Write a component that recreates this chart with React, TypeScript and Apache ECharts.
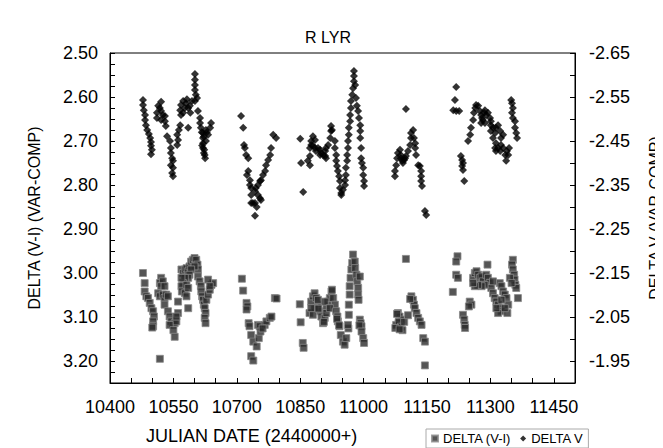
import React, { useEffect, useRef } from "react";
import * as echarts from "echarts";

const TITLE = "R LYR";
const X_TITLE = "JULIAN DATE (2440000+)";
const LEFT_TITLE = "DELTA (V-I) (VAR-COMP)";
const RIGHT_TITLE = "DELTA V (VAR-COMP)";
const SERIES_VI = "DELTA (V-I)";
const SERIES_V = "DELTA V";

// DELTA V (right axis) [JD-2440000, mag]
const v1 = [[10478,-2.543],[10478,-2.532],[10480,-2.520],[10483,-2.509],[10483,-2.498],[10485,-2.486],[10488,-2.475],[10492,-2.466],[10495,-2.457],[10497,-2.448],[10497,-2.439],[10499,-2.430],[10497,-2.420],
[10521,-2.539],[10514,-2.530],[10518,-2.525],[10511,-2.514],[10521,-2.518],[10511,-2.502],[10525,-2.509],[10530,-2.507],[10521,-2.498],[10530,-2.495],[10532,-2.484],[10535,-2.461],[10542,-2.450],[10544,-2.434],[10544,-2.423],[10547,-2.411],[10549,-2.405],[10544,-2.395],[10549,-2.389],[10547,-2.377],[10549,-2.370],
[10601,-2.602],[10601,-2.589],[10601,-2.577],[10601,-2.566],[10603,-2.555],[10606,-2.548],[10601,-2.541],[10573,-2.541],[10568,-2.532],[10566,-2.520],[10568,-2.509],[10573,-2.514],[10577,-2.525],[10566,-2.486],[10563,-2.475],[10559,-2.464],[10561,-2.452],[10559,-2.441],[10585,-2.480],[10608,-2.518],[10613,-2.502],[10613,-2.491],[10615,-2.480],[10620,-2.468],[10620,-2.457],[10620,-2.445],[10620,-2.434],[10622,-2.423],[10625,-2.411],[10627,-2.450],[10632,-2.464],[10639,-2.491],[10637,-2.480],[10627,-2.475],[10580,-2.536],[10585,-2.525],[10589,-2.530],[10582,-2.545],[10590,-2.514],[10594,-2.541],[10617,-2.470],[10618,-2.440],[10623,-2.430],[10624,-2.418],[10622,-2.460],[10629,-2.470]];
const v2 = [[10710,-2.507],[10715,-2.480],[10717,-2.441],[10719,-2.434],[10722,-2.418],[10727,-2.411],[10727,-2.382],[10724,-2.373],[10731,-2.361],[10731,-2.350],[10734,-2.343],[10734,-2.327],[10738,-2.309],[10743,-2.309],[10743,-2.336],[10745,-2.343],[10750,-2.350],[10755,-2.359],[10757,-2.361],[10762,-2.373],[10767,-2.382],[10769,-2.395],[10774,-2.407],[10779,-2.418],[10781,-2.434],[10786,-2.464],[10793,-2.457],[10750,-2.327],[10755,-2.320],[10757,-2.316],[10734,-2.309],[10743,-2.280],[10747,-2.300]];
const v3 = [[10850,-2.455],[10852,-2.400],[10857,-2.334],
[10873,-2.434],[10876,-2.450],[10880,-2.461],[10885,-2.452],[10876,-2.441],[10880,-2.439],[10885,-2.434],[10887,-2.427],[10892,-2.434],[10897,-2.430],[10899,-2.423],[10904,-2.418],[10909,-2.427],[10911,-2.434],[10916,-2.441],[10921,-2.457],[10923,-2.473],[10923,-2.484],[10925,-2.475],[10873,-2.416],[10868,-2.405],[10873,-2.395],[10897,-2.418],[10909,-2.416],[10911,-2.411],
[10932,-2.450],[10932,-2.434],[10935,-2.418],[10935,-2.405],[10937,-2.393],[10939,-2.382],[10942,-2.370],[10944,-2.359],[10944,-2.343],[10947,-2.332],[10947,-2.327],[10951,-2.339],[10956,-2.350],[10956,-2.361],[10958,-2.373],
[10958,-2.389],[10961,-2.405],[10961,-2.418],[10963,-2.434],[10963,-2.450],[10965,-2.464],[10965,-2.480],[10968,-2.495],[10968,-2.509],[10970,-2.525],[10970,-2.541],[10973,-2.555],[10975,-2.570],[10977,-2.586],[10977,-2.598],[10977,-2.609],
[10980,-2.577],[10982,-2.548],[10984,-2.530],[10987,-2.518],[10989,-2.502],[10992,-2.486],[10992,-2.473],[10992,-2.457],[10994,-2.434],[10994,-2.411],[10996,-2.400],[10999,-2.389],[10999,-2.373],[11001,-2.359],[11001,-2.348]];
const v4 = [[11100,-2.523],[11074,-2.370],[11074,-2.382],[11077,-2.395],[11079,-2.411],[11081,-2.423],[11086,-2.430],[11088,-2.418],[11088,-2.411],[11091,-2.405],[11093,-2.400],[11096,-2.407],[11098,-2.411],[11100,-2.416],[11105,-2.427],[11110,-2.441],[11112,-2.457],[11112,-2.468],[11117,-2.475],[11119,-2.457],[11122,-2.445],[11122,-2.434],[11124,-2.418],[11129,-2.395],[11133,-2.393],[11136,-2.382],[11136,-2.370],[11136,-2.359],[11138,-2.348],[11145,-2.291],[11148,-2.282]];
const v5 = [[11219,-2.573],[11216,-2.543],[11212,-2.520],[11219,-2.518],[11226,-2.518],[11230,-2.416],[11233,-2.407],[11235,-2.400],[11233,-2.393],[11235,-2.384],[11238,-2.359],
[11247,-2.450],[11252,-2.464],[11254,-2.480],[11259,-2.498],[11261,-2.514],[11264,-2.525],[11266,-2.532],[11271,-2.530],[11275,-2.518],[11278,-2.509],[11282,-2.498],[11287,-2.491],[11290,-2.509],[11294,-2.514],[11299,-2.502],[11301,-2.486],[11301,-2.473],[11306,-2.457],[11311,-2.434],[11313,-2.427],[11287,-2.520],[11285,-2.514],[11280,-2.502],[11278,-2.491],[11301,-2.495],[11306,-2.480],[11311,-2.468],[11313,-2.480],[11318,-2.486],[11323,-2.473],[11325,-2.457],[11325,-2.441],[11330,-2.434],[11335,-2.418],[11337,-2.405],[11339,-2.427],[11313,-2.445],[11318,-2.434],[11323,-2.427],[11342,-2.418],[11344,-2.434],[11330,-2.464],
[11349,-2.543],[11351,-2.536],[11353,-2.525],[11351,-2.514],[11353,-2.502],[11358,-2.495],[11358,-2.480],[11361,-2.468],[11363,-2.457]];

// DELTA (V-I) (left axis)
const vi1 = [[10478,3.000],[10482,3.023],[10482,3.042],[10486,3.053],[10490,3.057],[10494,3.068],[10498,3.080],[10502,3.087],[10504,3.099],[10502,3.110],[10502,3.121],[10500,3.124],[10518,3.195],
[10521,3.011],[10518,3.023],[10525,3.019],[10521,3.030],[10529,3.030],[10514,3.046],[10518,3.053],[10525,3.049],[10529,3.057],[10533,3.049],[10537,3.053],[10529,3.072],[10537,3.087],[10541,3.099],[10545,3.110],[10549,3.118],[10553,3.114],[10557,3.110],[10561,3.091],[10561,3.065],[10557,3.099],[10541,3.118],[10550,3.130],[10553,3.145],
[10569,2.992],[10573,3.000],[10577,2.992],[10581,2.989],[10585,2.996],[10588,2.985],[10592,2.974],[10596,2.970],[10600,2.966],[10604,2.970],[10607,2.981],[10608,2.992],[10600,2.985],[10592,2.992],[10588,3.004],[10585,3.011],[10577,3.011],[10573,3.023],[10569,3.030],[10570,3.042],[10577,3.046],[10581,3.053],[10569,3.011],[10581,3.027],[10585,3.034],[10585,3.080],
[10608,3.008],[10612,3.019],[10615,3.030],[10616,3.042],[10618,3.053],[10620,3.061],[10622,3.072],[10624,3.080],[10626,3.091],[10624,3.102],[10626,3.114],[10628,3.061],[10632,3.049],[10636,3.038],[10640,3.027],[10644,3.023],[10632,3.015],[10636,3.030]];
const vi2 = [[10712,3.013],[10715,3.040],[10723,3.068],[10725,3.076],[10723,3.083],[10728,3.114],[10730,3.121],[10750,3.118],[10754,3.121],[10766,3.118],[10770,3.110],[10778,3.102],[10782,3.099],[10790,3.057],[10794,3.058],[10734,3.141],[10739,3.156],[10747,3.167],[10752,3.148],[10756,3.133],[10761,3.126],[10734,3.189],[10739,3.199]];
const vi3 = [[10849,3.071],[10851,3.112],[10856,3.159],[10858,3.170],
[10872,3.091],[10876,3.065],[10880,3.053],[10884,3.046],[10888,3.057],[10892,3.072],[10896,3.087],[10900,3.099],[10904,3.114],[10908,3.102],[10912,3.080],[10916,3.065],[10920,3.057],[10924,3.042],[10925,3.038],[10928,3.057],[10932,3.072],[10884,3.080],[10880,3.095],[10892,3.061],[10876,3.080],[10908,3.065],[10912,3.091],[10920,3.080],[10893,3.081],[10906,3.111],
[10935,3.087],[10938,3.099],[10939,3.110],[10943,3.121],[10937,3.104],[10942,3.119],[10946,3.141],[10951,3.156],[10955,3.163],[10959,3.148],[10964,3.126],
[10963,3.118],[10965,3.095],[10965,3.072],[10967,3.049],[10967,3.030],[10969,3.011],[10971,2.992],[10973,2.977],[10975,2.958],
[10979,2.974],[10980,2.989],[10983,3.004],[10985,3.019],[10987,3.034],[10987,3.049],[10988,3.061],[10991,3.008],[10991,3.106],[10993,3.114],[10995,3.121],[10990,3.119],[10995,3.133],[10999,3.148],[11001,3.159]];
const vi4 = [[11100,2.968],[11081,3.091],[11085,3.099],[11089,3.106],[11083,3.114],[11077,3.118],[11113,3.053],[11117,3.061],[11119,3.072],[11121,3.080],[11125,3.091],[11129,3.102],[11133,3.110],[11137,3.118],[11079,3.093],[11083,3.111],[11088,3.122],[11092,3.130],[11096,3.111],[11105,3.096],[11110,3.059],[11141,3.148],[11145,3.156],[11145,3.210],[11075,3.125],[11085,3.128]];
const vi5 = [[11222,2.962],[11219,2.974],[11219,3.004],[11223,3.011],[11211,3.043],[11235,3.095],[11238,3.106],[11239,3.118],[11240,3.125],[11251,3.065],[11255,3.072],[11249,3.076],
[11259,3.011],[11263,3.000],[11267,2.996],[11271,3.004],[11275,3.011],[11279,3.008],[11282,3.019],[11290,3.004],[11294,3.011],[11293,2.981],[11298,3.023],[11302,3.034],[11306,3.046],[11310,3.057],[11314,3.065],[11318,3.072],[11322,3.080],[11326,3.087],[11318,3.091],[11314,3.080],[11322,3.023],[11326,3.030],[11330,3.042],[11334,3.049],[11338,3.057],[11342,3.072],[11340,3.091],[11334,3.080],[11326,3.061],[11306,3.019],[11286,3.027],[11279,3.030],[11271,3.027],[11263,3.030],[11259,3.023],
[11353,2.970],[11351,2.981],[11353,2.992],[11356,3.004],[11357,3.015],[11359,3.027],[11361,3.034],[11346,3.011],[11350,3.023],[11365,3.057]];

const FONT = "Liberation Sans, Arial, sans-serif";

export default function App() {
  const ref = useRef<HTMLDivElement>(null);
  useEffect(() => {
    if (!ref.current) return;
    const chart = echarts.init(ref.current, null, { renderer: "svg" });
    const axisLine = { show: true, lineStyle: { color: "#000", width: 1 } };
    const tick = { show: true, inside: true, length: 5, lineStyle: { color: "#000" } };
    chart.setOption({
      animation: false,
      backgroundColor: "#fff",
      textStyle: { fontFamily: FONT },
      title: {
        text: TITLE,
        left: 292,
        top: 16,
        textStyle: { fontSize: 16, fontWeight: "normal", color: "#000", fontFamily: FONT },
      },
      grid: { left: 102, right: 96, top: 45, bottom: 73, show: true, borderColor: "#000", borderWidth: 1 },
      legend: {
        data: [
          { name: SERIES_VI, icon: "rect" },
          { name: SERIES_V, icon: "diamond" },
        ],
        left: 418,
        top: 421,
        itemWidth: 6,
        itemHeight: 6,
        itemGap: 9,
        padding: [3, 5, 3, 5],
        borderColor: "#aaa",
        borderWidth: 1,
        textStyle: { fontSize: 13, color: "#000", fontFamily: FONT },
      },
      graphic: [
        {
          type: "text",
          left: 138,
          top: 419,
          style: { text: X_TITLE, fontSize: 18, fill: "#000", fontFamily: FONT },
        },
      ],
      xAxis: {
        type: "value",
        min: 10400,
        max: 11500,
        interval: 50,
        axisLine,
        axisTick: tick,
        splitLine: { show: false },
        axisLabel: {
          fontSize: 18,
          color: "#000",
          margin: 15,
          fontFamily: FONT,
          formatter: (v: number) => (Math.round(v - 10400) % 150 === 0 ? String(Math.round(v)) : ""),
        },
      },
      yAxis: [
        {
          type: "value",
          inverse: true,
          min: 2.5,
          max: 3.25,
          interval: 0.025,
          position: "left",
          name: LEFT_TITLE,
          nameLocation: "middle",
          nameRotate: 90,
          nameGap: 68,
          nameTextStyle: { fontSize: 16, color: "#000", fontFamily: FONT },
          axisLine,
          axisTick: tick,
          splitLine: { show: false },
          axisLabel: {
            fontSize: 18,
            color: "#000",
            margin: 12,
            fontFamily: FONT,
            formatter: (v: number) =>
              Math.abs(v * 10 - Math.round(v * 10)) < 1e-6 && v < 3.249 ? v.toFixed(2) : "",
          },
        },
        {
          type: "value",
          inverse: true,
          min: -2.65,
          max: -1.9,
          interval: 0.05,
          position: "right",
          name: RIGHT_TITLE,
          nameLocation: "middle",
          nameRotate: 90,
          nameGap: 72,
          nameTextStyle: { fontSize: 16, color: "#000", fontFamily: FONT },
          axisLine,
          axisTick: tick,
          splitLine: { show: false },
          axisLabel: {
            fontSize: 18,
            color: "#000",
            margin: 14,
            fontFamily: FONT,
            formatter: (v: number) => {
              const k = (v + 2.65) * 10;
              return Math.abs(k - Math.round(k)) < 1e-6 && v < -1.91 ? v.toFixed(2) : "";
            },
          },
        },
      ],
      series: [
        {
          name: SERIES_VI,
          type: "scatter",
          yAxisIndex: 0,
          symbol: "rect",
          symbolSize: 7,
          itemStyle: { color: "#2a2a2a", borderColor: "#888", borderWidth: 1 },
          data: [...vi1, ...vi2, ...vi3, ...vi4, ...vi5],
        },
        {
          name: SERIES_V,
          type: "scatter",
          yAxisIndex: 1,
          symbol: "diamond",
          symbolSize: 8,
          itemStyle: { color: "#000" },
          data: [...v1, ...v2, ...v3, ...v4, ...v5],
        },
      ],
    });
    return () => chart.dispose();
  }, []);
  return <div ref={ref} style={{ width: 663, height: 448 }} />;
}
